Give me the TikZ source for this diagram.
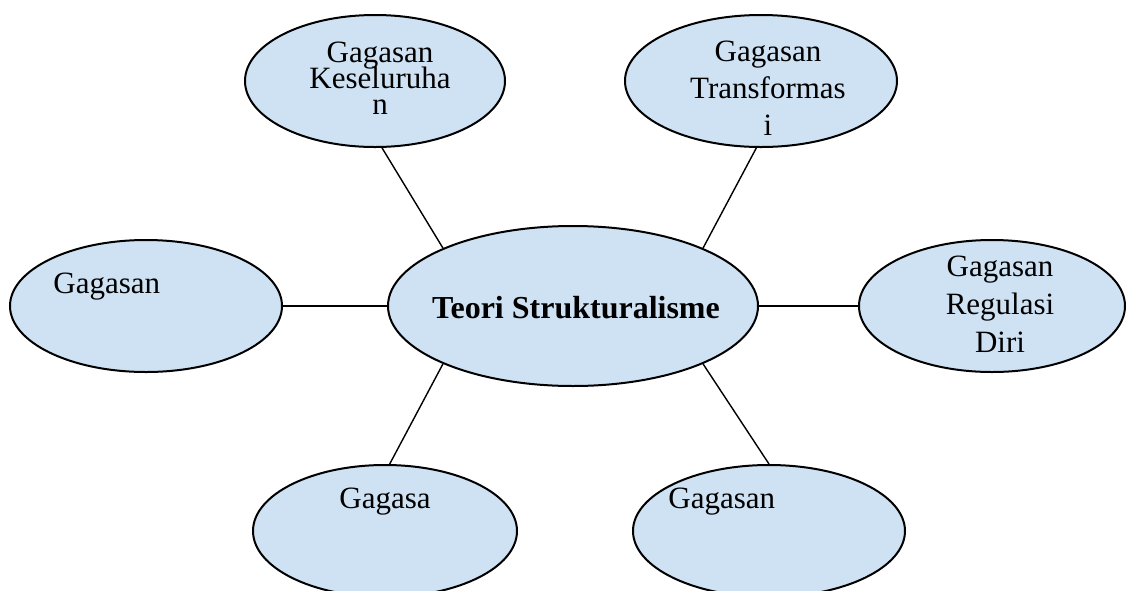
\documentclass[tikz,border=0pt]{standalone}
\usepackage{fontspec}
\setmainfont{Liberation Serif}
\usetikzlibrary{shapes.geometric}
\definecolor{bubble}{RGB}{207,226,243}
\lineskiplimit=-20pt
\begin{document}
\begin{tikzpicture}[x=0.5pt,y=-0.5pt,
  blob/.style={ellipse, draw=black, line width=1pt, fill=bubble, inner sep=0pt},
  link/.style={draw=black, line width=0.7pt},
  lbl/.style={inner sep=0pt, font=\fontsize{15.5}{18}\selectfont},
  multi/.style={inner sep=0pt, align=center, anchor=north,
    font={\fontsize{15.5}{#1}\selectfont}}]
\useasboundingbox (0,0) rectangle (1126,590);
\clip (0,0) rectangle (1126,590);
% ellipses
\node[blob, minimum width=130pt, minimum height=66pt] (tl) at (375,81) {};
\node[blob, minimum width=136pt, minimum height=66pt] (tr) at (761,81) {};
\node[blob, minimum width=136pt, minimum height=66pt] (lf) at (146,306) {};
\node[blob, minimum width=133pt, minimum height=66pt] (rt) at (992,306) {};
\node[blob, minimum width=185pt, minimum height=80pt] (c) at (573,306) {};
\node[blob, minimum width=132pt, minimum height=66pt] (bl) at (385,531) {};
\node[blob, minimum width=136pt, minimum height=66pt] (br) at (769,531) {};
% connectors
\draw[link] (tl.-84) -- (c.156);
\draw[link] (tr.-94) -- (c.24);
\draw[link] (lf.0) -- (c.180);
\draw[link] (rt.180) -- (c.0);
\draw[link] (bl.86) -- (c.204);
\draw[link] (br.90) -- (c.-24);
% texts
\node[multi=13pt] (tlT) at (380,42) {Gagasan\\Keseluruha\\n};
\node[multi=18.5pt] (trT) at (768,41) {Gagasan\\Transformas\\i};
\node[multi=19pt] (rtT) at (1000,256) {Gagasan\\Regulasi\\Diri};
\node[lbl, anchor=base west] (lfT) at (53,293) {Gagasan};
\node[lbl, anchor=base, font=\fontsize{16}{18}\selectfont\bfseries] (cT) at (576,318) {Teori Strukturalisme};
\node[lbl, anchor=base] (blT) at (385,508) {Gagasa};
\node[lbl, anchor=base west] (brT) at (668,508) {Gagasan};
\end{tikzpicture}
\end{document}
